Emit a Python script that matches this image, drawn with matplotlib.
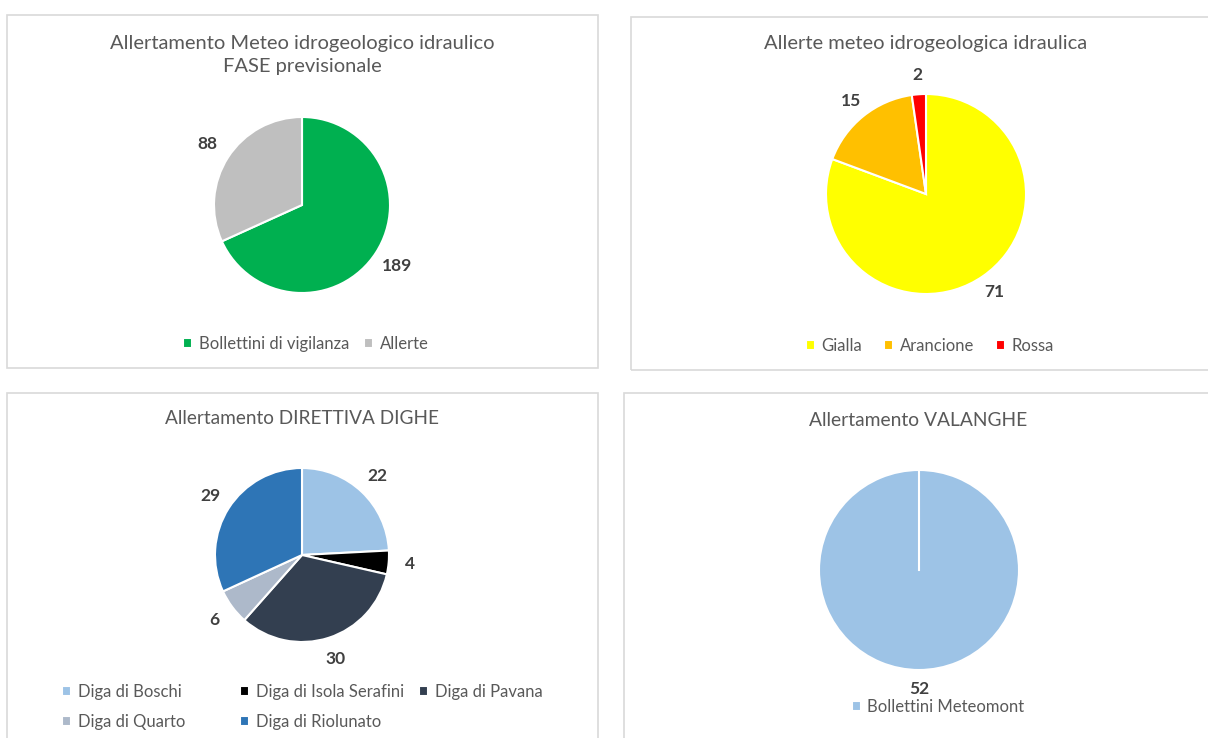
import matplotlib
matplotlib.use('Agg')
import matplotlib.pyplot as plt
from matplotlib.patches import Rectangle
import numpy as np

plt.rcParams['font.family'] = ['Lato', 'DejaVu Sans']

W, H = 1208, 738

# --- data ---
fase_title = 'Allertamento Meteo idrogeologico idraulico\nFASE previsionale'
fase_labels = ['Bollettini di vigilanza', 'Allerte']
fase_values = [189, 88]
fase_colors = ['#00B050', '#BFBFBF']

allerte_title = 'Allerte meteo idrogeologica idraulica'
allerte_labels = ['Gialla', 'Arancione', 'Rossa']
allerte_values = [71, 15, 2]
allerte_colors = ['#FFFF00', '#FFC000', '#FF0000']

dighe_title = 'Allertamento DIRETTIVA DIGHE'
dighe_labels = ['Diga di Boschi', 'Diga di Isola Serafini', 'Diga di Pavana',
                'Diga di Quarto', 'Diga di Riolunato']
dighe_values = [22, 4, 30, 6, 29]
dighe_colors = ['#9DC3E6', '#000000', '#333F50', '#ADB9CA', '#2E75B6']

valanghe_title = 'Allertamento VALANGHE'
valanghe_labels = ['Bollettini Meteomont']
valanghe_values = [52]
valanghe_colors = ['#9DC3E6']

TITLE_C = '#595959'
LABEL_C = '#404040'
TITLE_FS = 14.5


def fx(x):
    return x / W


def fy(y):
    return 1 - y / H


def panel_frame(fig, x0, y0, x1, y1):
    fig.patches.append(Rectangle((fx(x0), fy(y1)), fx(x1) - fx(x0), fy(y0) - fy(y1),
                                 transform=fig.transFigure, fill=False,
                                 edgecolor='#D9D9D9', lw=1.2))


def draw_pie(fig, cx, cy, r, values, colors, labeldist=1.25):
    ax = fig.add_axes([fx(cx - r), fy(cy + r), 2 * r / W, 2 * r / H])
    wedges, texts = ax.pie(values, colors=colors, labels=[str(v) for v in values],
                           startangle=90, counterclock=False, labeldistance=labeldist,
                           wedgeprops={'edgecolor': 'white', 'linewidth': 1.5},
                           textprops={'fontsize': 12.5, 'fontweight': 'bold', 'color': LABEL_C})
    for t in texts:
        t.set_ha('center')
        t.set_va('center')
    ax.set_xlim(-1, 1)
    ax.set_ylim(-1, 1)
    ax.set_aspect('equal')
    ax.axis('off')
    return ax, wedges


fig = plt.figure(figsize=(W / 100, H / 100), dpi=100)

# frames
panel_frame(fig, 7, 15, 598, 368)
panel_frame(fig, 631, 17, 1230, 370)
panel_frame(fig, 7, 393, 598, 760)
panel_frame(fig, 624, 393, 1230, 760)

legend_kw = dict(frameon=False, fontsize=12, handlelength=0.55, handleheight=0.55,
                 handletextpad=0.4, labelcolor=TITLE_C, borderpad=0, borderaxespad=0)

# Panel 1
fig.text(fx(302), fy(55), fase_title, ha='center', va='center', fontsize=TITLE_FS,
         color=TITLE_C, linespacing=1.4)
ax1, w1 = draw_pie(fig, 302, 205, 88, fase_values, fase_colors, 1.28)
fig.legend(w1, fase_labels, loc='center', bbox_to_anchor=(fx(306), fy(344)),
           ncol=2, columnspacing=0.9, **legend_kw)

# Panel 2
fig.text(fx(926), fy(44), allerte_title, ha='center', va='center', fontsize=TITLE_FS,
         color=TITLE_C)
ax2, w2 = draw_pie(fig, 926, 194, 100, allerte_values, allerte_colors, 1.19)
fig.legend(w2, allerte_labels, loc='center', bbox_to_anchor=(fx(930), fy(346)),
           ncol=3, columnspacing=1.3, **legend_kw)

# Panel 3
fig.text(fx(302), fy(419), dighe_title, ha='center', va='center', fontsize=13.7,
         color=TITLE_C)
ax3, w3 = draw_pie(fig, 302, 555, 87, dighe_values, dighe_colors, 1.25)
# Excel-style legend: equal-width columns, filled row by row
ncols = 3
col_x = [62, 240, 419]
for c in range(ncols):
    idx = list(range(c, len(dighe_labels), ncols))
    fig.legend([w3[i] for i in idx], [dighe_labels[i] for i in idx], loc='upper left',
               bbox_to_anchor=(fx(col_x[c]), fy(684)), labelspacing=0.85, **legend_kw)

# Panel 4
fig.text(fx(918), fy(420), valanghe_title, ha='center', va='center', fontsize=13.9,
         color=TITLE_C)
ax4, w4 = draw_pie(fig, 919, 570, 100, valanghe_values, valanghe_colors, 1.19)
# edge of the single slice, from centre to its start angle
wd = w4[0]
ang = np.deg2rad(wd.theta2)
ax4.plot([wd.center[0], wd.center[0] + wd.r * np.cos(ang)],
         [wd.center[1], wd.center[1] + wd.r * np.sin(ang)], color='white', lw=1.5)
fig.legend(w4, valanghe_labels, loc='center', bbox_to_anchor=(fx(938), fy(707)),
           **legend_kw)

fig.savefig('out.png', dpi=100, facecolor='white')
